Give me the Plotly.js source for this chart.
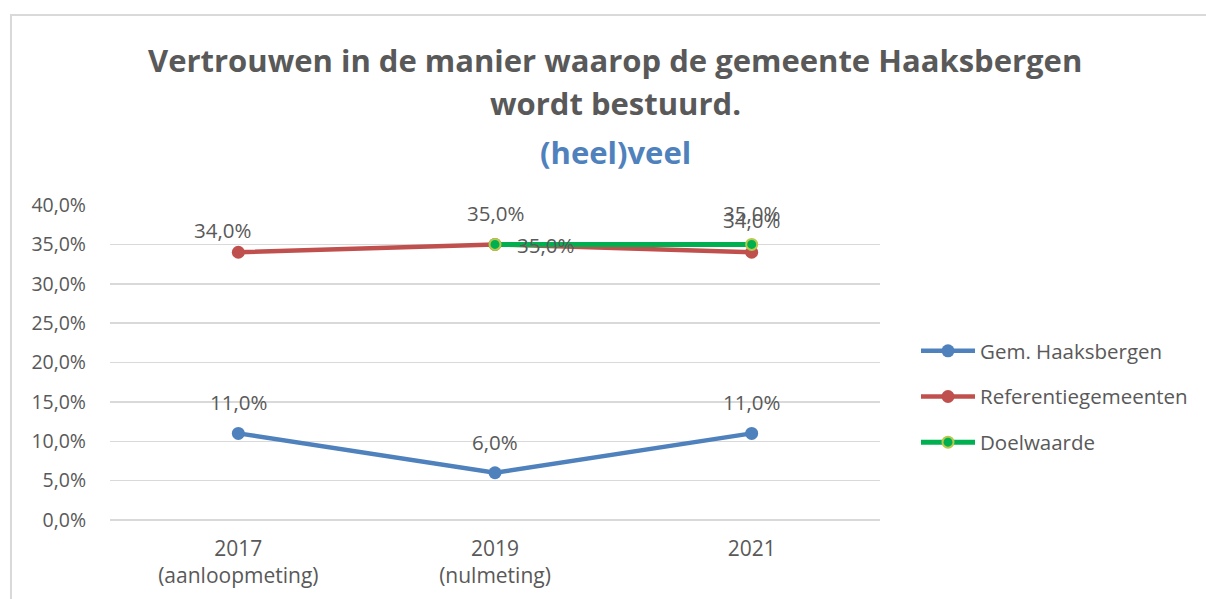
<!DOCTYPE html>
<html><head><meta charset="utf-8">
<script src="https://cdn.plot.ly/plotly-3.0.1.min.js"></script>
<style>
body{margin:0;padding:0;background:#fff;}
#wrap{position:relative;width:1206px;height:599px;}
#chart{position:absolute;left:0;top:0;width:1206px;height:599px;}
#frame{position:absolute;left:10px;top:14px;width:1196px;height:585px;border-top:2px solid #d9d9d9;border-left:2px solid #d9d9d9;box-sizing:border-box;pointer-events:none;}
</style></head>
<body><div id="wrap"><div id="chart"></div><div id="frame"></div></div>
<script>
var categories = ["2017<br>(aanloopmeting)", "2019<br>(nulmeting)", "2021"];
var haaksbergen = [11.0, 6.0, 11.0];
var referentie = [34.0, 35.0, 34.0];
var doelwaardeCats = ["2019<br>(nulmeting)", "2021"];
var doelwaarde = [35.0, 35.0];
var yTicks = [0, 5, 10, 15, 20, 25, 30, 35, 40];

var FONT = "'Open Sans', Lato, sans-serif";
var GRAY = "#595959";
var BLUE = "#4F81BD", RED = "#C0504D", GREEN = "#00B050";

function fmt(v){ return v.toFixed(1).replace('.', ',') + '%'; }

var traces = [
  {name:"Gem. Haaksbergen", x:categories, y:haaksbergen, mode:"lines+markers", type:"scatter",
   line:{color:BLUE, width:4.5}, marker:{color:BLUE, size:13}, legendgroup:"a"},
  {name:"Referentiegemeenten", x:categories, y:referentie, mode:"lines+markers", type:"scatter",
   line:{color:RED, width:4.5}, marker:{color:RED, size:13}, legendgroup:"b"},
  {name:"Doelwaarde", x:doelwaardeCats, y:doelwaarde, mode:"lines+markers", type:"scatter",
   line:{color:GREEN, width:5}, marker:{color:GREEN, size:11, line:{color:"#B5C94C", width:2}}, legendgroup:"c"}
];

var ann = [];
function addLabels(xs, ys, offs){
  for (var i=0;i<xs.length;i++){
    ann.push({x:categories.indexOf(xs[i]), y:ys[i], xref:"x", yref:"y", text:fmt(ys[i]), showarrow:false,
      xshift:offs[i][0], yshift:offs[i][1], font:{family:FONT, size:20.5, color:GRAY}});
  }
}
addLabels(categories, haaksbergen, [[0,31],[0,31],[0,31]]);
addLabels(categories, referentie, [[-16,22],[0,31],[0,32]]);
addLabels(doelwaardeCats, doelwaarde, [[50,-1],[0,31]]);

var cx = (615-110)/770;
ann.push({xref:"paper", yref:"paper", x:cx, y:(520-60)/315, text:"<b>Vertrouwen in de manier waarop de gemeente Haaksbergen</b>",
  showarrow:false, font:{family:FONT, size:31, color:GRAY}, xanchor:"center", yanchor:"middle"});
ann.push({xref:"paper", yref:"paper", x:cx, y:(520-103)/315, text:"<b>wordt bestuurd.</b>",
  showarrow:false, font:{family:FONT, size:31, color:GRAY}, xanchor:"center", yanchor:"middle"});
ann.push({xref:"paper", yref:"paper", x:cx, y:(520-152)/315, text:"<b>(heel)veel</b>",
  showarrow:false, font:{family:FONT, size:31, color:BLUE}, xanchor:"center", yanchor:"middle"});

var layout = {
  width:1206, height:599,
  margin:{l:110, r:326, t:205, b:79},
  paper_bgcolor:"#fff", plot_bgcolor:"#fff",
  showlegend:true,
  legend:{x:(916-110)/770, y:(520-331)/315, xanchor:"left", yanchor:"top", itemwidth:54,
    font:{family:FONT, size:20.5, color:GRAY}, traceorder:"grouped", tracegroupgap:16, bgcolor:"rgba(0,0,0,0)"},
  xaxis:{type:"category", range:[-0.5, 2.5], showgrid:false, zeroline:false, showline:false,
    ticks:"", tickfont:{family:FONT, size:21, color:GRAY}, ticklabelstandoff:14, fixedrange:true},
  yaxis:{range:[0,40], tickvals:yTicks, ticktext:yTicks.map(fmt), showgrid:true, gridcolor:"#d9d9d9", gridwidth:1.5,
    zeroline:true, zerolinecolor:"#d9d9d9", zerolinewidth:1.5, showline:false, ticks:"",
    tickfont:{family:FONT, size:19.5, color:GRAY}, ticklabelstandoff:23, fixedrange:true},
  annotations:ann,
  font:{family:FONT, color:GRAY}
};
Plotly.newPlot("chart", traces, layout, {displayModeBar:false, staticPlot:true});
</script></body></html>
